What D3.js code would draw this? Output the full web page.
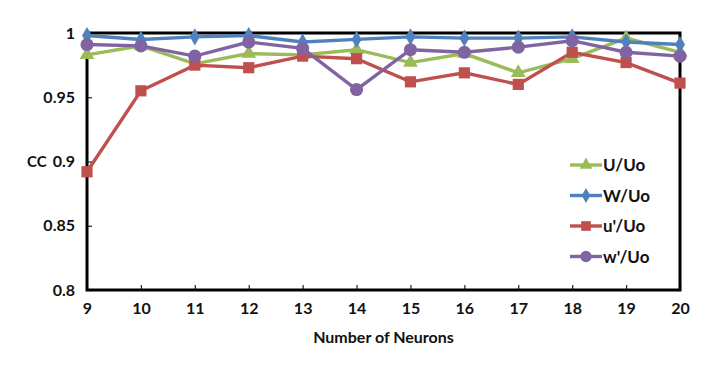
<!DOCTYPE html>
<html>
<head>
	<meta charset="utf-8">
	<title>CC vs number of neurons</title>
	<script src="https://cdn.jsdelivr.net/npm/d3@7"></script>
</head>
<style type="text/css">
body { margin: 0; background-color: #ffffff; }
text { font-family: Lato, "Open Sans", sans-serif; font-weight: bold; fill: #111; }
</style>
<body>
</body>
</html>
<script type="text/javascript">
	var neurons = [9, 10, 11, 12, 13, 14, 15, 16, 17, 18, 19, 20];
	var uU  = [0.983, 0.990, 0.976, 0.984, 0.983, 0.987, 0.977, 0.984, 0.969, 0.980, 0.996, 0.985];
	var wU  = [0.998, 0.995, 0.997, 0.998, 0.993, 0.995, 0.997, 0.996, 0.996, 0.997, 0.993, 0.991];
	var upU = [0.892, 0.955, 0.975, 0.973, 0.982, 0.980, 0.962, 0.969, 0.960, 0.985, 0.977, 0.961];
	var wpU = [0.991, 0.990, 0.982, 0.993, 0.988, 0.956, 0.987, 0.985, 0.989, 0.994, 0.985, 0.982];
	var yTicks = [0.8, 0.85, 0.9, 0.95, 1];
	var yTickLabels = ["0.8", "0.85", "0.9", "0.95", "1"];

	var series = [
		{name: "U/Uo", values: uU, color: "#9bbb59", shape: d3.symbolTriangle, size: 95},
		{name: "W/Uo", values: wU, color: "#4f81bd", shape: d3.symbolDiamond, size: 85},
		{name: "u'/Uo", values: upU, color: "#c0504d", shape: d3.symbolSquare, size: 125},
		{name: "w'/Uo", values: wpU, color: "#8064a2", shape: d3.symbolCircle, size: 135}
	];

	var w = 726, h = 370;
	var margin = {top: 33, left: 87, right: 46, bottom: 80};
	var svg = d3.select("body").append("svg").attr("width", w).attr("height", h);

	var x = d3.scaleLinear().domain([9, 20]).range([margin.left, w - margin.right]);
	var y = d3.scaleLinear().domain([0.8, 1]).range([h - margin.bottom, margin.top]);

	// inward ticks
	var xAxis = d3.axisBottom(x).tickValues(neurons).tickSize(-5).tickPadding(13).tickFormat(d3.format("d"));
	var yAxis = d3.axisLeft(y).tickValues(yTicks).tickSize(-5).tickPadding(12)
		.tickFormat(function(d, i){ return yTickLabels[i]; });

	var gx = svg.append("g").attr("transform", "translate(0," + (h - margin.bottom) + ")").call(xAxis);
	var gy = svg.append("g").attr("transform", "translate(" + margin.left + ",0)").call(yAxis);
	[gx, gy].forEach(function(g){
		g.select(".domain").remove();
		g.selectAll(".tick line").attr("stroke", "#222").attr("stroke-width", 1.2);
		g.selectAll(".tick text").style("font-size", "16px");
	});

	// plot frame
	svg.append("rect")
		.attr("x", x(9)).attr("y", y(1))
		.attr("width", x(20) - x(9)).attr("height", y(0.8) - y(1))
		.attr("fill", "none").attr("stroke", "#000").attr("stroke-width", 3);

	var line = d3.line()
		.x(function(d, i){ return x(neurons[i]); })
		.y(function(d){ return y(d); });

	series.forEach(function(s){
		svg.append("path").datum(s.values)
			.attr("d", line)
			.attr("fill", "none")
			.attr("stroke", s.color)
			.attr("stroke-width", 3.4);
		svg.selectAll(null).data(s.values).enter().append("path")
			.attr("d", d3.symbol().type(s.shape).size(s.size))
			.attr("transform", function(d, i){ return "translate(" + x(neurons[i]) + "," + y(d) + ")"; })
			.attr("fill", s.color);
	});

	// legend
	var legend = svg.append("g").attr("transform", "translate(570,165)");
	series.forEach(function(s, i){
		var g = legend.append("g").attr("transform", "translate(0," + (i * 30.5) + ")");
		g.append("line").attr("x1", 0).attr("x2", 32).attr("y1", 0).attr("y2", 0)
			.attr("stroke", s.color).attr("stroke-width", 3.4);
		g.append("path").attr("d", d3.symbol().type(s.shape).size(s.size * 0.75))
			.attr("transform", "translate(16,0)").attr("fill", s.color);
		g.append("text").attr("x", 33).attr("y", 0).attr("dy", "0.36em")
			.style("font-size", "17px").text(s.name);
	});

	// axis titles
	svg.append("text").attr("x", (x(9) + x(20)) / 2).attr("y", 343)
		.attr("text-anchor", "middle").style("font-size", "16px").text("Number of Neurons");
	svg.append("text").attr("x", 27).attr("y", y(0.9)).attr("dy", "0.36em")
		.style("font-size", "15px").text("CC");
</script>
